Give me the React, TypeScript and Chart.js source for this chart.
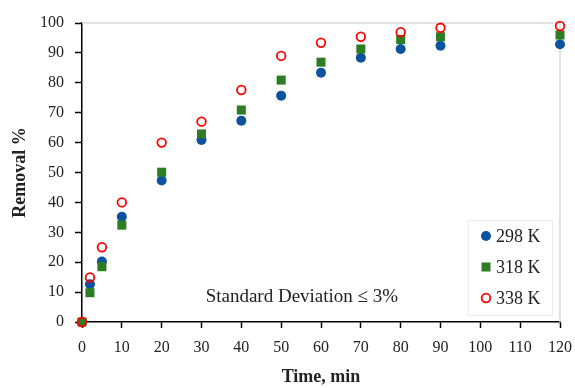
import React, { useEffect, useRef } from 'react';
import { Chart, registerables } from 'chart.js';

Chart.register(...registerables);

const times = [0, 2, 5, 10, 20, 30, 40, 50, 60, 70, 80, 90, 120];
const removal298 = [0, 12.6, 20.2, 35.2, 47.3, 60.9, 67.3, 75.7, 83.4, 88.4, 91.3, 92.4, 92.9];
const removal318 = [0, 9.8, 18.5, 32.4, 50.1, 62.9, 70.9, 80.9, 86.9, 91.3, 94.5, 95.4, 96.0];
const removal338 = [0, 14.9, 25.0, 40.0, 60.0, 67.0, 77.6, 89.0, 93.4, 95.4, 96.9, 98.4, 99.0];
const seriesLabels = ['298 K', '318 K', '338 K'];
const seriesColors = ['#0b539f', '#2e7d24', '#ff0000'];
const noteText = 'Standard Deviation \u2264 3%';
const xTitle = 'Time, min';
const yTitle = 'Removal %';

const FONT = "'Liberation Serif', 'Times New Roman', serif";

function drawMarker(ctx: CanvasRenderingContext2D, kind: number, x: number, y: number) {
  ctx.save();
  if (kind === 0) {
    ctx.fillStyle = seriesColors[0];
    ctx.beginPath();
    ctx.arc(x, y, 5, 0, Math.PI * 2);
    ctx.fill();
  } else if (kind === 1) {
    ctx.fillStyle = seriesColors[1];
    ctx.fillRect(x - 4.5, y - 4.5, 9, 9);
  } else {
    ctx.strokeStyle = seriesColors[2];
    ctx.lineWidth = 1.8;
    ctx.beginPath();
    ctx.arc(x, y, 4.3, 0, Math.PI * 2);
    ctx.stroke();
  }
  ctx.restore();
}

const framePlugin = {
  id: 'frameLines',
  beforeDatasetsDraw(chart: any) {
    const { ctx, chartArea } = chart;
    ctx.save();
    ctx.strokeStyle = '#d9d9d9';
    ctx.lineWidth = 1.5;
    ctx.beginPath();
    ctx.moveTo(chartArea.left, chartArea.top);
    ctx.lineTo(chartArea.right, chartArea.top);
    ctx.lineTo(chartArea.right, chartArea.bottom);
    ctx.stroke();
    ctx.restore();
  },
};

const notePlugin = {
  id: 'noteAndLegend',
  afterDatasetsDraw(chart: any) {
    const { ctx, chartArea, scales } = chart;
    ctx.save();
    ctx.font = `19px ${FONT}`;
    ctx.fillStyle = '#222';
    ctx.textAlign = 'center';
    ctx.textBaseline = 'middle';
    ctx.fillText(noteText, scales.x.getPixelForValue(55.2), scales.y.getPixelForValue(8.2));

    const boxR = chartArea.right - 8;
    const boxL = boxR - 84;
    const boxB = chartArea.bottom - 7;
    const boxT = boxB - 95;
    ctx.fillStyle = '#ffffff';
    ctx.fillRect(boxL, boxT, boxR - boxL, boxB - boxT);
    ctx.strokeStyle = '#ececec';
    ctx.lineWidth = 1;
    ctx.strokeRect(boxL + 0.5, boxT + 0.5, boxR - boxL, boxB - boxT);
    const rows = [16, 47, 78];
    ctx.textAlign = 'left';
    ctx.fillStyle = '#222';
    ctx.font = `18px ${FONT}`;
    seriesLabels.forEach((lab, i) => {
      const y = boxT + rows[i];
      drawMarker(ctx, i, boxL + 18, y);
      ctx.fillText(lab, boxL + 28, y + 1);
    });
    ctx.restore();
  },
};

export default function App() {
  const ref = useRef<HTMLCanvasElement | null>(null);
  useEffect(() => {
    document.body.style.margin = '0';
    const canvas = ref.current;
    if (!canvas) return;
    const mk = (arr: number[]) => times.map((t, i) => ({ x: t, y: arr[i] }));
    const chart = new Chart(canvas, {
      type: 'scatter',
      data: {
        datasets: [
          {
            label: seriesLabels[0],
            data: mk(removal298),
            pointStyle: 'circle',
            pointRadius: 5,
            pointBackgroundColor: seriesColors[0],
            pointBorderColor: seriesColors[0],
            pointBorderWidth: 0,
            clip: false,
            order: 2,
          },
          {
            label: seriesLabels[1],
            data: mk(removal318),
            pointStyle: 'rect',
            pointRadius: 6.4,
            pointBackgroundColor: seriesColors[1],
            pointBorderColor: seriesColors[1],
            pointBorderWidth: 0,
            clip: false,
            order: 1,
          },
          {
            label: seriesLabels[2],
            data: mk(removal338),
            pointStyle: 'circle',
            pointRadius: 4.3,
            pointBackgroundColor: 'rgba(0,0,0,0)',
            pointBorderColor: seriesColors[2],
            pointBorderWidth: 1.8,
            clip: false,
            order: 0,
          },
        ],
      },
      options: {
        responsive: false,
        animation: false,
        devicePixelRatio: 1,
        layout: { padding: { top: 23, right: 15, left: 0, bottom: 0 } },
        plugins: { legend: { display: false }, tooltip: { enabled: false } },
        scales: {
          x: {
            type: 'linear',
            min: 0,
            max: 120,
            afterFit: (s: any) => { s.height = 66; s.paddingRight = 0; s.paddingLeft = 0; },
            ticks: {
              stepSize: 10,
              padding: 10,
              color: '#222',
              font: { family: FONT, size: 16 },
              maxRotation: 0,
            },
            grid: { drawOnChartArea: false, tickLength: 6, color: '#000', tickWidth: 1.5 },
            border: { color: '#000', width: 1.5 },
            title: {
              display: true,
              text: xTitle,
              color: '#222',
              font: { family: FONT, size: 18, weight: 'bold' },
              padding: { top: 0, bottom: 0 },
            },
          },
          y: {
            type: 'linear',
            min: 0,
            max: 100,
            afterFit: (s: any) => { s.width = 82; s.paddingTop = 0; s.paddingBottom = 0; },
            ticks: {
              stepSize: 10,
              padding: 11,
              color: '#222',
              font: { family: FONT, size: 16 },
            },
            grid: { drawOnChartArea: false, tickLength: 7, color: '#000', tickWidth: 1.5 },
            border: { color: '#000', width: 1.5 },
            title: {
              display: true,
              text: yTitle,
              color: '#222',
              font: { family: FONT, size: 18, weight: 'bold' },
              padding: { top: 10, bottom: 0 },
            },
          },
        },
      },
      plugins: [framePlugin, notePlugin],
    });
    return () => chart.destroy();
  }, []);
  return (
    <div style={{ width: 575, height: 388, background: '#fff' }}>
      <canvas ref={ref} width={575} height={388} style={{ display: 'block' }} />
    </div>
  );
}
